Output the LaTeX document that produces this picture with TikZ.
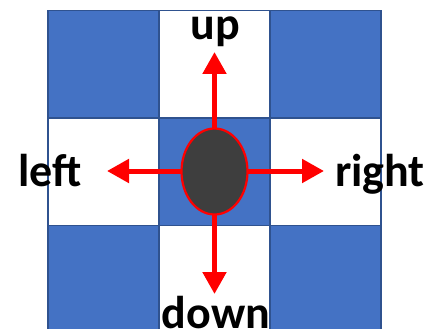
\documentclass[tikz,border=0pt]{standalone}
\usepackage{fontspec}
\setsansfont{Carlito}
\usetikzlibrary{arrows.meta,shapes.geometric}
\definecolor{gridBlue}{RGB}{68,114,196}
\definecolor{gridEdge}{RGB}{47,82,143}
\definecolor{agentFill}{RGB}{62,62,62}
\tikzset{gwpanel/.style={
  font=\sffamily\bfseries,
  cell/.style={rectangle, draw=gridEdge, line width=1.8pt, minimum width=111pt, minimum height=107.5pt, inner sep=0pt},
  wall/.style={cell, fill=gridBlue},
  open/.style={cell, fill=white},
  agent/.style={ellipse, fill=agentFill, draw=red, line width=2.2pt, minimum width=66pt, minimum height=86pt, inner sep=0pt},
  move/.style={-{Triangle[width=23pt, length=22pt]}, line width=5pt, red},
  dirlab/.style={font=\sffamily\bfseries\fontsize{46}{50}\selectfont, anchor=base, inner sep=0pt},
}}

\begin{document}
\begin{tikzpicture}[gwpanel, x=1pt, y=-1pt]
\useasboundingbox (0,0) rectangle (429,329);

% =====================================================================
% grid: corners and centre blue, edge cells white
% =====================================================================
\foreach \c/\x in {0/103.5, 1/214.5, 2/325.5}{
  \foreach \r/\y in {0/64.25, 1/171.75, 2/279.25}{
    \pgfmathtruncatemacro{\odd}{mod(\c+\r,2)}
    \ifnum\odd=0
      \node[wall] (c-\c-\r) at (\x,\y) {};
    \else
      \node[open] (c-\c-\r) at (\x,\y) {};
    \fi
  }
}

% =====================================================================
% agent and its four moves
% =====================================================================
\coordinate (tipup) at (214.5,52);
\coordinate (tipleft) at (107,171);
\coordinate (tipright) at (324,171);
\coordinate (tipdown) at (214.5,294);
\draw[move] (214.5,171) -- (tipup);
\draw[move] (214.5,171) -- (tipleft);
\draw[move] (214.5,171) -- (tipright);
\draw[move] (214.5,171) -- (tipdown);
\node[agent] (agent) at (214.5,171.5) {};

\node[dirlab] (lup) at (215,40) {up};
\node[dirlab] (lleft) at (50,186) {left};
\node[dirlab] (lright) at (380,186) {right};
\node[dirlab] (ldown) at (216,328) {down};

\end{tikzpicture}
\end{document}
